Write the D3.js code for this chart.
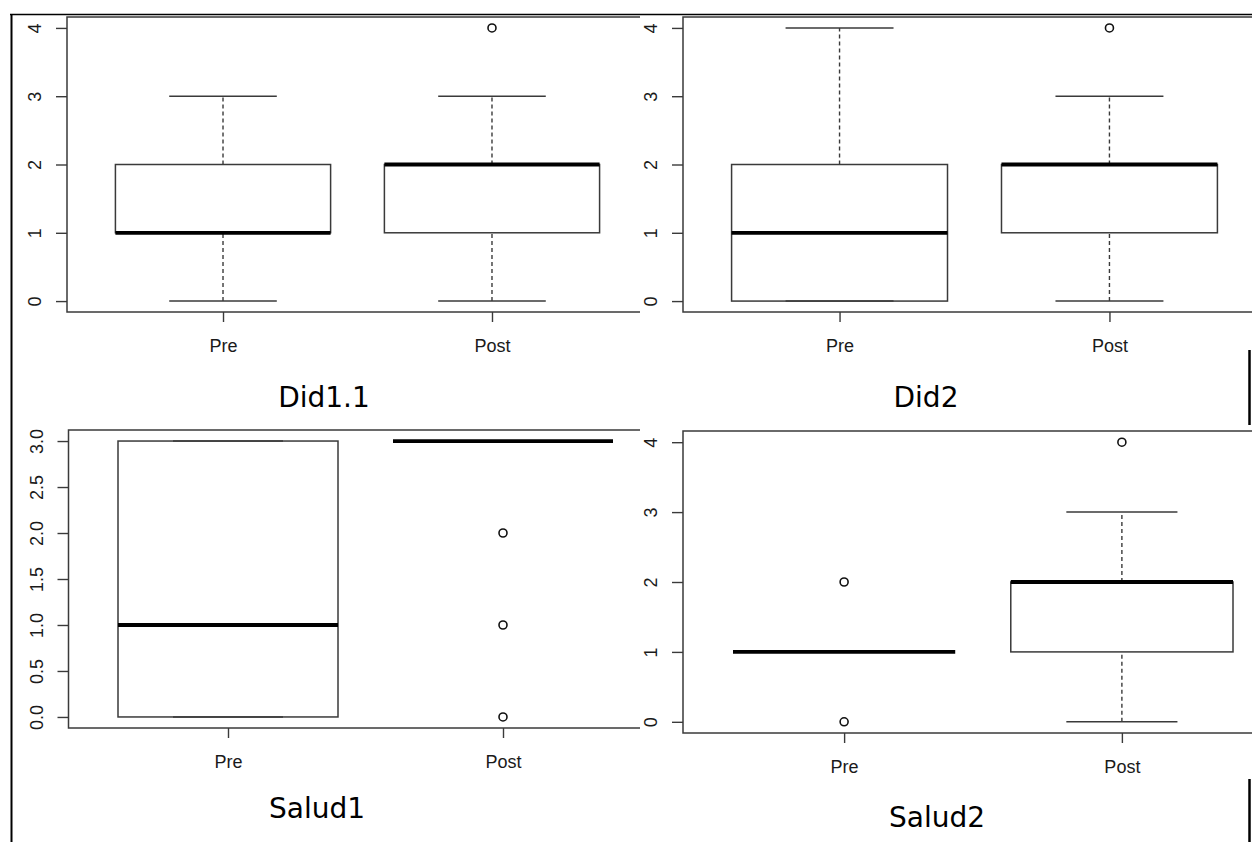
<!DOCTYPE html>
<html>
<head>
<meta charset="utf-8">
<script src="https://cdn.jsdelivr.net/npm/d3@7"></script>
<style>
  body { margin: 0; background: #fff; }
  svg { display: block; }
</style>
</head>
<body>
<svg id="chart" width="1252" height="842"></svg>
<script>
// Groups on every x axis
const categories = ["Pre", "Post"];
const captions = ["Did1.1", "Did2", "Salud1", "Salud2"];

// Box statistics per group: [lower whisker, Q1, median, Q3, upper whisker]
const did11Stats  = [[0, 1, 1, 2, 3], [0, 1, 2, 2, 3]];
const did2Stats   = [[0, 0, 1, 2, 4], [0, 1, 2, 2, 3]];
const salud1Stats = [[0, 0, 1, 3, 3], [3, 3, 3, 3, 3]];
const salud2Stats = [[1, 1, 1, 1, 1], [0, 1, 2, 2, 3]];

// Points beyond the whiskers, per group
const did11Outliers  = [[], [4]];
const did2Outliers   = [[], [4]];
const salud1Outliers = [[], [2, 1, 0]];
const salud2Outliers = [[2, 0], [4]];

// Y tick values
const wholeTicks = [0, 1, 2, 3, 4];
const halfTicks  = [0, 0.5, 1, 1.5, 2, 2.5, 3];

// Page geometry of the four plots (plot frame, visible window, caption anchor)
const panels = [
  { stats: did11Stats,  outliers: did11Outliers,  ticks: wholeTicks, fmt: d3.format("d"),
    frame: [67, 648, 17, 312],      view: [0, 640, 15, 380],    caption: captions[0], cap: [324, 407] },
  { stats: did2Stats,   outliers: did2Outliers,   ticks: wholeTicks, fmt: d3.format("d"),
    frame: [683, 1266, 17, 312],    view: [640, 1252, 15, 370], caption: captions[1], cap: [926, 407] },
  { stats: salud1Stats, outliers: salud1Outliers, ticks: halfTicks,  fmt: d3.format(".1f"),
    frame: [68.5, 662.5, 430, 728], view: [0, 640, 418, 790],   caption: captions[2], cap: [317, 818] },
  { stats: salud2Stats, outliers: salud2Outliers, ticks: wholeTicks, fmt: d3.format("d"),
    frame: [683, 1283, 431, 733],   view: [640, 1252, 425, 785], caption: captions[3], cap: [937, 827] }
];

const LINE = "#3a3a3a";
const TEXT = "#1a1a1a";
const svg = d3.select("#chart");
const defs = svg.append("defs");

panels.forEach((p, k) => {
  const [fx0, fx1, fy0, fy1] = p.frame;
  const [vx0, vx1, vy0, vy1] = p.view;
  const n = p.stats.length;

  defs.append("clipPath").attr("id", "view" + k)
    .append("rect").attr("x", vx0).attr("y", vy0)
    .attr("width", vx1 - vx0).attr("height", vy1 - vy0);

  const g = svg.append("g").attr("clip-path", `url(#view${k})`);
  g.append("rect").attr("x", vx0).attr("y", vy0)
    .attr("width", vx1 - vx0).attr("height", vy1 - vy0).attr("fill", "#fff");

  // R-style ranges: groups at 1..n, 4% padding on each side
  const x = d3.scaleLinear()
    .domain([0.5 - 0.04 * n, n + 0.5 + 0.04 * n])
    .range([fx0, fx1]);
  const allVals = p.stats.flat().concat(p.outliers.flat());
  const [lo, hi] = d3.extent(allVals);
  const pad = (hi - lo) * 0.04;
  const y = d3.scaleLinear().domain([lo - pad, hi + pad]).range([fy1, fy0]);

  // Y axis with labels running along the axis
  const ya = g.append("g").attr("transform", `translate(${fx0},0)`)
    .call(d3.axisLeft(y).tickValues(p.ticks).tickFormat(p.fmt).tickSize(11).tickSizeOuter(0));
  ya.select(".domain").remove();
  ya.selectAll("line").attr("stroke", LINE).attr("stroke-width", 1.4);
  ya.selectAll("text")
    .attr("transform", "rotate(-90)")
    .attr("x", 0).attr("y", -26).attr("dy", 0)
    .attr("text-anchor", "middle")
    .attr("fill", TEXT)
    .style("font", "18px 'Liberation Sans', Arial, sans-serif");

  // X axis with group names
  const xa = g.append("g").attr("transform", `translate(0,${fy1})`)
    .call(d3.axisBottom(x).tickValues(d3.range(1, n + 1))
      .tickFormat(i => categories[i - 1]).tickSize(10).tickSizeOuter(0));
  xa.select(".domain").remove();
  xa.selectAll("line").attr("stroke", LINE).attr("stroke-width", 1.4);
  xa.selectAll("text")
    .attr("y", 40).attr("dy", 0)
    .attr("fill", TEXT)
    .style("font", "18px 'Liberation Sans', Arial, sans-serif");

  // Boxes
  const boxes = g.selectAll("g.box").data(p.stats).join("g").attr("class", "box");
  boxes.each(function (s, i) {
    const c = i + 1;
    const b = d3.select(this);
    // whiskers
    [[s[0], s[1]], [s[3], s[4]]].forEach(([a, z]) => {
      if (a === z) return;
      b.append("line")
        .attr("x1", x(c)).attr("x2", x(c))
        .attr("y1", y(a)).attr("y2", y(z))
        .attr("stroke", LINE).attr("stroke-width", 1.4)
        .attr("stroke-dasharray", "4,3");
    });
    // staples
    [s[0], s[4]].forEach(v => {
      b.append("line")
        .attr("x1", x(c - 0.2)).attr("x2", x(c + 0.2))
        .attr("y1", y(v)).attr("y2", y(v))
        .attr("stroke", LINE).attr("stroke-width", 1.5);
    });
    // box
    if (s[3] > s[1]) {
      b.append("rect")
        .attr("x", x(c - 0.4)).attr("width", x(c + 0.4) - x(c - 0.4))
        .attr("y", y(s[3])).attr("height", y(s[1]) - y(s[3]))
        .attr("fill", "none").attr("stroke", LINE).attr("stroke-width", 1.5);
    }
    // median
    b.append("line")
      .attr("x1", x(c - 0.4)).attr("x2", x(c + 0.4))
      .attr("y1", y(s[2])).attr("y2", y(s[2]))
      .attr("stroke", "#000").attr("stroke-width", 3.8);
    // outliers
    b.selectAll("circle").data(p.outliers[i]).join("circle")
      .attr("cx", x(c)).attr("cy", v => y(v)).attr("r", 4)
      .attr("fill", "none").attr("stroke", "#111").attr("stroke-width", 1.6);
  });

  // plot frame
  g.append("rect")
    .attr("x", fx0).attr("y", fy0)
    .attr("width", fx1 - fx0).attr("height", fy1 - fy0)
    .attr("fill", "none").attr("stroke", LINE).attr("stroke-width", 1.5);

  // caption under the plot
  svg.append("text")
    .attr("x", p.cap[0]).attr("y", p.cap[1])
    .attr("text-anchor", "middle")
    .attr("fill", "#000")
    .style("font", "28px 'DejaVu Sans', Verdana, sans-serif")
    .text(p.caption);
});

// table borders
const border = svg.append("g").attr("stroke", "#000").attr("fill", "none");
border.append("line").attr("x1", 10).attr("x2", 1252).attr("y1", 14.5).attr("y2", 14.5).attr("stroke-width", 1.5);
border.append("line").attr("x1", 11.5).attr("x2", 11.5).attr("y1", 14).attr("y2", 842).attr("stroke-width", 2);
border.append("line").attr("x1", 1249.5).attr("x2", 1249.5).attr("y1", 350).attr("y2", 425).attr("stroke-width", 2.5);
border.append("line").attr("x1", 1249.5).attr("x2", 1249.5).attr("y1", 779).attr("y2", 842).attr("stroke-width", 2.5);
</script>
</body>
</html>
